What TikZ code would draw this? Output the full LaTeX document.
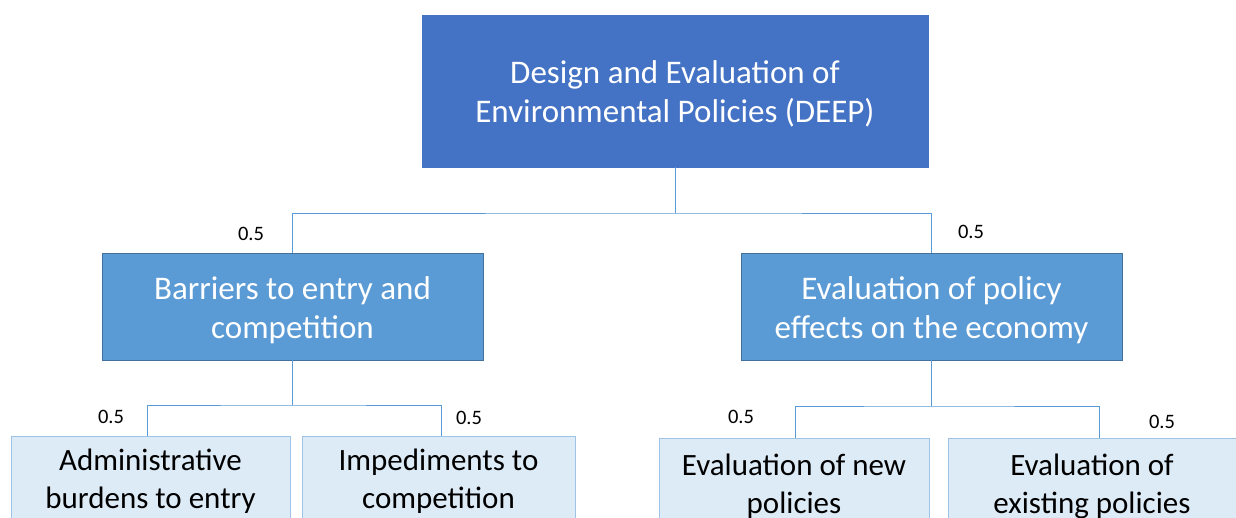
\documentclass[tikz,border=0pt]{standalone}
\usepackage{fontspec}
\setmainfont{Carlito}
\definecolor{topblue}{HTML}{4472C4}
\definecolor{midblue}{HTML}{5B9BD5}
\definecolor{midedge}{HTML}{41719C}
\definecolor{lowfill}{HTML}{DDEBF7}
\definecolor{lowedge}{HTML}{9DC3E6}
\definecolor{linkblue}{HTML}{5B9BD5}
\tikzset{
  topbox/.style={fill=topblue, draw=topblue, text=white, align=center,
    minimum width=506pt, minimum height=152pt, inner sep=0pt,
    font=\fontsize{33}{39}\selectfont},
  midbox/.style={fill=midblue, draw=midedge, line width=0.8pt, text=white, align=center,
    minimum width=381pt, minimum height=107pt, inner sep=0pt,
    font=\fontsize{33}{39.5}\selectfont},
  lowbox/.style={fill=lowfill, draw=lowedge, line width=0.8pt, text=black, align=center,
    inner sep=0pt, font=\fontsize{31}{38}\selectfont},
  link/.style={draw=linkblue, line width=0.8pt},
  wlabel/.style={font=\fontsize{20.5}{22}\selectfont, text=black, inner sep=0pt}
}
\begin{document}
\begin{tikzpicture}[x=1pt,y=-1pt]
\useasboundingbox (0,0) rectangle (1236,518);
\clip (0,0) rectangle (1236,518);
\fill[white] (0,0) rectangle (1236,518);

\node[topbox] (deep) at (675,91) {};
\node[text=white, align=center, font=\fontsize{33}{39}\selectfont] (deept) at (675,94) {Design and Evaluation of\\Environmental Policies (DEEP)};

\node[midbox] (bar) at (292.5,306.5) {};
\node[text=white, align=center, font=\fontsize{33}{39.5}\selectfont] (bart) at (292.5,310) {Barriers to entry and\\competition};
\node[midbox] (eva) at (931.5,306.5) {};
\node[text=white, align=center, font=\fontsize{33}{39.5}\selectfont] (evat) at (931.5,310) {Evaluation of policy\\effects on the economy};

\node[lowbox, minimum width=279pt, minimum height=90pt] (adm) at (150.5,481) {Administrative\\burdens to entry};
\node[lowbox, minimum width=273pt, minimum height=90pt] (imp) at (438.5,481) {Impediments to\\competition};
\node[lowbox, minimum width=270pt, minimum height=96pt] (new) at (794,486) {Evaluation of new\\policies};
\node[lowbox, minimum width=288pt, minimum height=96pt] (exi) at (1092,486) {Evaluation of\\existing policies};

% connectors
\coordinate (j1) at (675,213);
\draw[link] (deep.south) -- (j1);
\draw[link] (bar.north) |- (j1) -| (eva.north);

\coordinate (j2) at (292.5,405);
\draw[link] (bar.south) -- (j2);
\draw[link] ([xshift=-3.5pt]adm.north) |- (j2) -| ([xshift=2.5pt]imp.north);

\coordinate (j3) at (931.5,406);
\draw[link] (eva.south) -- (j3);
\draw[link] ([xshift=1pt]new.north) |- (j3) -| ([xshift=7pt]exi.north);

% weights
\node[wlabel] (w1) at (251,234) {0.5};
\node[wlabel] (w2) at (971,232) {0.5};
\node[wlabel] (w3) at (111,417) {0.5};
\node[wlabel] (w4) at (469,418) {0.5};
\node[wlabel] (w5) at (741,417) {0.5};
\node[wlabel] (w6) at (1162,422) {0.5};
\end{tikzpicture}
\end{document}
